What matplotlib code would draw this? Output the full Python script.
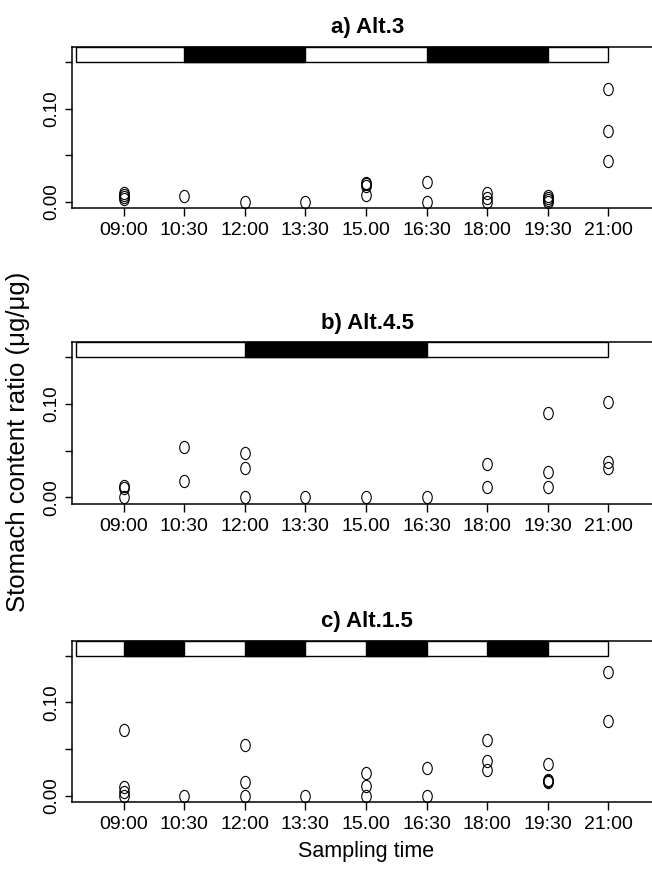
import numpy as np
import matplotlib
matplotlib.use('Agg')
import matplotlib.pyplot as plt
from matplotlib.path import Path
from matplotlib.patches import Rectangle

# horas de muestreo (eje x)
horas = ['09:00', '10:30', '12:00', '13:30', '15.00', '16:30', '18:00', '19:30', '21:00']

# contenido estomacal (ug/ug) por hora, una lista por muestreo
alt3 = [[0.003, 0.005, 0.007, 0.009], [0.0064], [0.0], [0.0],
        [0.007, 0.017, 0.019, 0.020], [0.0, 0.0215], [0.0, 0.004, 0.0095],
        [0.0, 0.002, 0.004, 0.006], [0.0436, 0.0761, 0.1214]]
alt45 = [[0.0, 0.010, 0.012], [0.0174, 0.054], [0.0, 0.0312, 0.0474], [0.0],
         [0.0], [0.0], [0.0115, 0.0352], [0.0115, 0.0276, 0.0905],
         [0.031, 0.038, 0.102]]
alt15 = [[0.0, 0.004, 0.0096, 0.071], [0.0], [0.0, 0.0149, 0.0539], [0.0],
         [0.0, 0.0103, 0.0248], [0.0, 0.0301], [0.0273, 0.0372, 0.0592],
         [0.015, 0.016, 0.017, 0.0337], [0.0805, 0.1329]]

# periodos oscuros (indices de hora inicio, fin) para la barra superior
oscuro_alt3 = [(1, 3), (5, 7)]
oscuro_alt45 = [(2, 5)]
oscuro_alt15 = [(0, 1), (2, 3), (4, 5), (6, 7)]

titulos = ['a) Alt.3', 'b) Alt.4.5', 'c) Alt.1.5']
paneles = [alt3, alt45, alt15]
oscuros = [oscuro_alt3, oscuro_alt45, oscuro_alt15]
abajo = [0.7608, 0.4215, 0.0789]

narrow = ['Liberation Sans Narrow', 'Liberation Sans', 'DejaVu Sans']
arial = ['Liberation Sans', 'DejaVu Sans']

# circulo algo alargado, como en la figura original
circ = Path.unit_circle()
marcador = Path(circ.vertices * np.array([0.78, 1.0]), circ.codes)

ymin, ymax = -0.0071, 0.1661

fig = plt.figure(figsize=(6.52, 8.71), dpi=100)

for k in range(3):
    ax = fig.add_axes([0.1109, abajo[k], 0.9045, 0.1853])
    datos = paneles[k]
    for i, vals in enumerate(datos):
        ax.plot([i] * len(vals), vals, linestyle='none', marker=marcador,
                markersize=8.8, markerfacecolor='none', markeredgecolor='black',
                markeredgewidth=0.8)

    # barra dia/noche
    ax.add_patch(Rectangle((-0.79, 0.15), 8.79, ymax - 0.15, facecolor='white',
                           edgecolor='black', linewidth=1.0, clip_on=False, zorder=3))
    for ini, fin in oscuros[k]:
        ax.add_patch(Rectangle((ini, 0.15), fin - ini, ymax - 0.15, facecolor='black',
                               edgecolor='black', linewidth=1.0, clip_on=False, zorder=4))

    ax.set_xlim(-0.845, 8.886)
    ax.set_ylim(ymin, ymax)
    ax.spines['right'].set_visible(False)
    for s in ['left', 'bottom', 'top']:
        ax.spines[s].set_linewidth(1.1)

    ax.set_xticks(range(len(horas)))
    ax.set_xticklabels(horas, fontsize=14, family=narrow)
    ax.set_yticks([0.0, 0.05, 0.10, 0.15])
    ax.set_yticklabels(['0.00', '', '0.10', ''], rotation=90, va='center',
                       fontsize=13.5, family=arial)
    ax.tick_params(axis='x', direction='out', length=6, width=1, pad=4)
    ax.tick_params(axis='y', direction='out', length=4.8, width=1, pad=4)

    ax.text(0.5, 1.118, titulos[k], transform=ax.transAxes, ha='center',
            va='center', fontsize=16, fontweight='bold', family=arial)

fig.text(0.028, 0.4925, 'Stomach content ratio (\u03bcg/\u03bcg)', rotation=90,
         ha='center', va='center', fontsize=18.5, family=arial)
fig.text(0.5614, 0.0225, 'Sampling time', ha='center', va='center',
         fontsize=15.5, family=arial)

fig.savefig('out.png', dpi=100)
